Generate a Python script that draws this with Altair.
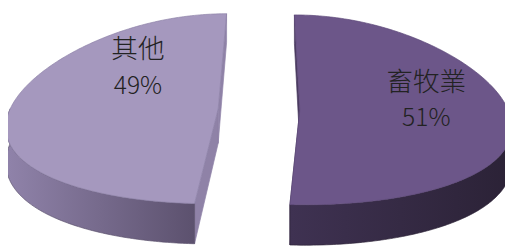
import numpy as np
import pandas as pd
import altair as alt

# ---- data ----
categories = ["畜牧業", "其他"]
values = [51, 49]

# ---- layout (screen units of the 513x250 picture) ----
VX, K = 272.0, 0.169          # perspective centre and strength
CX0, CY0 = 263.0, 109.0       # pie centre
RX, RY, DEPTH = 211.5, 96.5, 35.0
EXPLODE = 41.5
LABEL_XY = {"畜牧業": (433, 100), "其他": (140, 67)}
LINE_GAP = 36

TOP_FILL = {"畜牧業": "#6C5689", "其他": "#A598BE"}
TOP_STROKE = {"畜牧業": "#5E4A7A", "其他": "#8E81A8"}
SIDE_STOPS = {"畜牧業": ("#3F3252", "#2B2236"), "其他": ("#9083AA", "#5C516E")}
CUT_FILL = {"畜牧業": "#4A3B60", "其他": "#8F82A7"}


def proj(X, Z, h):
    s = 1 + K * Z
    return VX + (X - VX) * s, CY0 + RY * Z + h * DEPTH * s


rows = []
total = sum(values)
start = 0.0
polys = []
for cat, val in zip(categories, values):
    a0 = start
    a1 = start + 360.0 * val / total
    start = a1
    mid = np.radians((a0 + a1) / 2)
    cx = CX0 + EXPLODE * np.sin(mid)
    cz = -EXPLODE * np.cos(mid) / RX

    def rim(a, h):
        t = np.radians(a)
        return proj(cx + RX * np.sin(t), cz - np.cos(t), h)

    ctr = lambda h: proj(cx, cz, h)

    # cut faces
    for j, a in enumerate((a0, a1)):
        pts = [ctr(0), rim(a, 0), rim(a, 1), ctr(1), ctr(0)]
        pid = f"{cat}_cut{j}"
        polys.append((pid, "cut", cat))
        rows += [dict(poly=pid, i=n, x=p[0], y=p[1]) for n, p in enumerate(pts)]
    # side wall (front half)
    s0, s1 = max(a0, 90.0), min(a1, 270.0)
    if s1 > s0:
        angs = np.linspace(s0, s1, 120)
        pts = [rim(a, 0) for a in angs] + [rim(a, 1) for a in angs[::-1]]
        pts.append(pts[0])
        pid = f"{cat}_side"
        polys.append((pid, "side", cat))
        rows += [dict(poly=pid, i=n, x=p[0], y=p[1]) for n, p in enumerate(pts)]
    # top face
    angs = np.linspace(a0, a1, 200)
    pts = [ctr(0)] + [rim(a, 0) for a in angs] + [ctr(0)]
    pid = f"{cat}_top"
    polys.append((pid, "top", cat))
    rows += [dict(poly=pid, i=n, x=p[0], y=p[1]) for n, p in enumerate(pts)]

df = pd.DataFrame(rows)

xs = alt.Scale(domain=[8, 513], nice=False, zero=False)
ys = alt.Scale(domain=[8, 250], nice=False, zero=False, reverse=True)

base = alt.Chart(df)
layers = []
order = [p for p in polys if p[1] == "cut"] + [p for p in polys if p[1] == "side"] + [p for p in polys if p[1] == "top"]
for pid, kind, cat in order:
    if kind == "side":
        c0, c1 = SIDE_STOPS[cat]
        fill = alt.Gradient(gradient="linear", x1=0, y1=0, x2=1, y2=0,
                            stops=[alt.GradientStop(color=c0, offset=0),
                                   alt.GradientStop(color=c1, offset=1)])
        stroke = c1
    elif kind == "cut":
        fill = CUT_FILL[cat]
        stroke = CUT_FILL[cat]
    else:
        fill = TOP_FILL[cat]
        stroke = TOP_STROKE[cat]
    layers.append(
        base.transform_filter(alt.datum.poly == pid)
        .mark_line(fill=fill, stroke=stroke, strokeWidth=0.7)
        .encode(x=alt.X("x:Q", scale=xs, axis=None),
                y=alt.Y("y:Q", scale=ys, axis=None),
                order="i:Q")
    )

name_rows, pct_rows = [], []
for cat, val in zip(categories, values):
    lx, ly = LABEL_XY[cat]
    pct = round(100 * val / total)
    name_rows.append(dict(t=cat, x=lx, y=ly - LINE_GAP / 2))
    pct_rows.append(dict(t=f"{pct}%", x=lx, y=ly + LINE_GAP / 2))

enc = dict(x=alt.X("x:Q", scale=xs, axis=None), y=alt.Y("y:Q", scale=ys, axis=None), text="t:N")
names = alt.Chart(pd.DataFrame(name_rows)).mark_text(
    font="Noto Sans CJK TC", fontSize=27, fontWeight=300, color="#222222",
    baseline="middle", align="center"
).encode(**enc)
pcts = alt.Chart(pd.DataFrame(pct_rows)).mark_text(
    font="Noto Sans CJK TC", fontSize=25, fontWeight=300, color="#222222",
    baseline="middle", align="center"
).encode(**enc)

chart = alt.layer(*layers, names, pcts).properties(
    width=505, height=242, padding=0, autosize=alt.AutoSizeParams(type="none")
).configure_view(stroke=None)

chart.save("out.html", embed_options={"renderer": "svg", "actions": False})
